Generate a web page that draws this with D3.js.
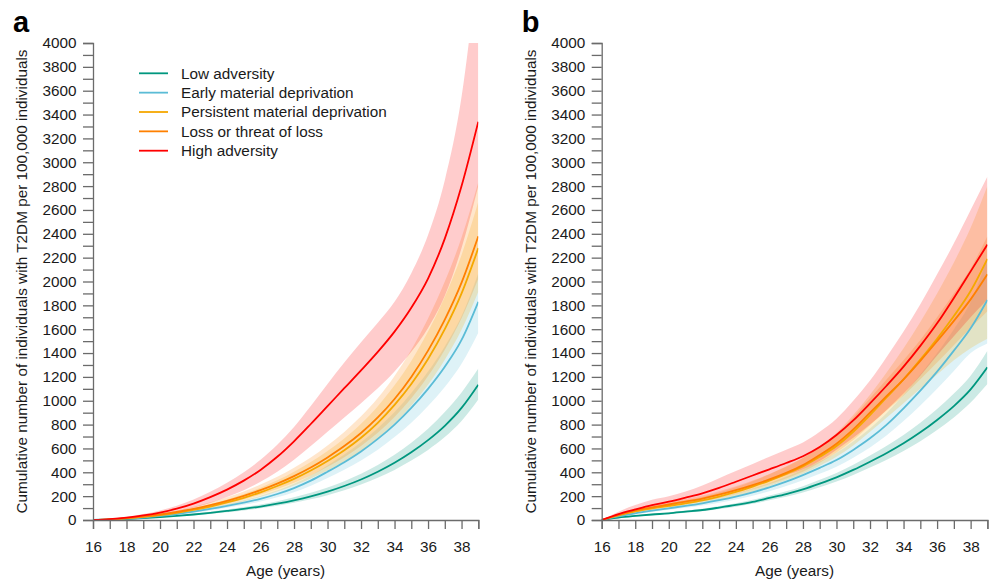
<!DOCTYPE html>
<html>
<head>
<meta charset="utf-8">
<script src="https://cdn.jsdelivr.net/npm/d3@7"></script>
<style>
  html, body { margin: 0; padding: 0; background: #fff; }
  svg { display: block; font-family: "Liberation Sans", Arial, sans-serif; }
</style>
</head>
<body>
<svg id="chart" width="992" height="582"></svg>
<script>
// ---------------- DATA ----------------
const ages = [16,17,18,19,20,21,22,23,24,25,26,27,28,29,30,31,32,33,34,35,36,37,38,39];
const groups = ["Low adversity","Early material deprivation","Persistent material deprivation","Loss or threat of loss","High adversity"];
const colors = ["#00977f","#5bbcd6","#f5a800","#ff8000","#ff0000"];
const yTicks = [0,200,400,600,800,1000,1200,1400,1600,1800,2000,2200,2400,2600,2800,3000,3200,3400,3600,3800,4000];
const xTickLabels = [16,18,20,22,24,26,28,30,32,34,36,38];
const panelLabels = ["a","b"];

// Panel a
const aLow     = [0,3,8,15,24,34,46,60,76,93,113,137,165,198,238,285,340,405,480,568,670,790,940,1135];
const aLowLo   = [0,2,6,12,20,29,39,51,65,80,98,119,144,173,208,250,298,355,420,498,588,695,830,1010];
const aLowHi   = [0,4,10,18,29,40,54,70,88,108,131,158,190,228,273,326,388,462,548,648,765,905,1070,1270];
const aEarly   = [0,4,11,21,34,50,70,93,118,146,178,218,268,330,405,485,575,680,800,940,1100,1285,1510,1830];
const aEarlyLo = [0,3,9,18,29,43,60,80,102,127,155,190,233,287,352,422,500,590,695,815,955,1115,1310,1570];
const aEarlyHi = [0,5,13,24,39,57,80,106,134,166,202,247,303,374,458,550,652,770,905,1065,1245,1455,1710,2070];
const aPers    = [0,5,14,26,41,60,84,113,147,186,232,285,345,415,495,585,690,815,965,1140,1350,1600,1900,2280];
const aPersLo  = [0,4,12,22,34,50,71,95,123,156,195,239,290,349,416,491,580,685,811,958,1134,1344,1596,1915];
const aPersHi  = [0,6,16,30,48,70,98,132,172,218,271,333,404,486,579,684,807,954,1129,1334,1580,1872,2223,2668];
const aLoss    = [0,6,16,29,46,67,93,124,160,202,250,305,368,440,525,620,730,860,1015,1200,1420,1680,1990,2380];
const aLossLo  = [0,5,14,25,39,57,79,105,136,172,213,259,313,374,446,527,621,731,863,1020,1207,1428,1692,2023];
const aLossHi  = [0,7,19,35,55,80,111,148,190,240,298,363,438,524,625,738,869,1023,1208,1428,1690,1999,2368,2832];
const aHigh    = [0,8,20,38,62,95,138,192,255,330,420,530,660,805,955,1105,1255,1410,1580,1780,2025,2360,2800,3340];
const aHighLo  = [0,6,15,28,46,70,102,143,192,250,320,405,505,620,740,860,980,1105,1245,1410,1610,1880,2280,2800];
const aHighHi  = [0,11,27,50,80,120,172,236,312,400,505,630,780,955,1140,1320,1490,1655,1830,2070,2390,2850,3550,4700];

// Panel b
const bLow     = [0,20,34,46,56,70,84,104,126,152,185,218,257,305,358,420,489,562,643,735,839,955,1095,1280];
const bLowLo   = [0,15,28,39,49,61,74,92,112,136,165,195,230,275,323,378,440,505,578,660,755,860,985,1140];
const bLowHi   = [0,24,40,53,64,80,95,117,141,170,205,241,284,337,395,463,540,622,712,815,930,1060,1210,1420];
const bEarly   = [0,30,56,78,98,118,140,166,196,232,274,322,377,437,503,588,685,800,937,1085,1244,1420,1607,1845];
const bEarlyLo = [0,24,47,67,85,103,122,145,172,204,242,285,334,388,447,522,608,710,830,960,1100,1250,1400,1480];
const bEarlyHi = [0,37,66,90,112,134,159,189,222,262,309,362,423,490,563,658,768,898,1050,1220,1400,1600,1830,2200];
const bPers    = [0,38,72,97,118,140,165,197,235,280,330,387,450,530,620,740,880,1030,1180,1345,1520,1710,1920,2190];
const bPersLo  = [0,28,58,80,98,117,139,167,200,240,284,333,388,455,530,625,740,860,980,1100,1220,1340,1440,1520];
const bPersHi  = [0,50,88,116,140,165,193,230,274,325,383,450,525,620,730,880,1050,1240,1440,1660,1900,2160,2450,2800];
const bLoss    = [0,42,80,105,130,155,180,212,250,293,340,395,460,545,640,760,900,1040,1180,1335,1500,1670,1850,2060];
const bLossLo  = [0,33,67,90,112,134,157,185,219,258,300,348,405,480,565,670,795,920,1045,1180,1320,1465,1610,1750];
const bLossHi  = [0,52,95,122,150,178,206,242,284,332,385,447,520,615,722,860,1020,1180,1340,1510,1700,1900,2110,2380];
const bHigh    = [0,50,89,125,154,188,224,270,321,373,425,478,535,612,713,835,978,1128,1286,1460,1649,1862,2085,2310];
const bHighLo  = [0,35,65,92,115,140,170,205,245,286,330,375,425,495,590,690,800,925,1060,1210,1380,1540,1700,1850];
const bHighHi  = [0,70,125,170,200,240,290,350,410,470,530,590,650,740,850,1000,1170,1370,1580,1810,2060,2320,2600,2880];

const panelA = [[aLow,aLowLo,aLowHi],[aEarly,aEarlyLo,aEarlyHi],[aPers,aPersLo,aPersHi],[aLoss,aLossLo,aLossHi],[aHigh,aHighLo,aHighHi]];
const panelB = [[bLow,bLowLo,bLowHi],[bEarly,bEarlyLo,bEarlyHi],[bPers,bPersLo,bPersHi],[bLoss,bLossLo,bLossHi],[bHigh,bHighLo,bHighHi]];

// ---------------- DRAW ----------------
const svg = d3.select("#chart");
const yTitle = "Cumulative number of individuals with T2DM per 100,000 individuals";
const axisColor = "#6b6b6b";
const textColor = "#1a1a1a";
const fs = "15.3px";

const y = d3.scaleLinear().domain([0,4000]).range([520,43]);

const panels = [
  {label: panelLabels[0], x0: 93, x1: 478.3, data: panelA, legend: true},
  {label: panelLabels[1], x0: 601.7, x1: 987.4, data: panelB, legend: false}
];

panels.forEach((p, pi) => {
  const x = d3.scaleLinear().domain([16,39]).range([p.x0, p.x1]);
  const g = svg.append("g");

  const clipId = "clip" + pi;
  svg.append("defs").append("clipPath").attr("id", clipId)
    .append("rect").attr("x", p.x0).attr("y", 43).attr("width", p.x1 - p.x0).attr("height", 520 - 43);

  const plot = g.append("g").attr("clip-path", `url(#${clipId})`);

  const area = d3.area()
    .x((d,i) => x(ages[i]))
    .y0(d => y(d[0]))
    .y1(d => y(d[1]))
    .curve(d3.curveMonotoneX);
  const line = d3.line()
    .x((d,i) => x(ages[i]))
    .y(d => y(d))
    .curve(d3.curveMonotoneX);

  p.data.forEach((s, k) => {
    const pts = ages.map((a,i) => [s[1][i], s[2][i]]);
    plot.append("path").attr("d", area(pts))
      .attr("fill", colors[k]).attr("fill-opacity", 0.2).attr("stroke", "none");
  });
  p.data.forEach((s, k) => {
    plot.append("path").attr("d", line(s[0]))
      .attr("fill", "none").attr("stroke", colors[k]).attr("stroke-width", 1.8);
  });

  // Y axis
  const yAxis = d3.axisLeft(y)
    .tickValues(d3.range(0, 4001, 100))
    .tickSize(10).tickPadding(6.5)
    .tickFormat(d => yTicks.includes(d) ? String(d) : "");
  const yg = g.append("g").attr("transform", `translate(${p.x0},0)`).call(yAxis);
  yg.select(".domain").attr("stroke", axisColor).attr("stroke-width", 1.3);
  yg.selectAll(".tick line").attr("stroke", axisColor).attr("stroke-width", 1.3);
  yg.selectAll(".tick text").attr("fill", textColor).style("font-size", fs)
    .style("font-family", '"Liberation Sans", Arial, sans-serif');

  // X axis
  const xAxis = d3.axisBottom(x)
    .tickValues(d3.range(16, 40, 1))
    .tickSize(9).tickPadding(12)
    .tickFormat(d => xTickLabels.includes(d) ? String(d) : "");
  const xg = g.append("g").attr("transform", `translate(0,520)`).call(xAxis);
  xg.select(".domain").attr("stroke", axisColor).attr("stroke-width", 1.3);
  xg.selectAll(".tick line").attr("stroke", axisColor).attr("stroke-width", 1.3);
  xg.selectAll(".tick text").attr("fill", textColor).style("font-size", fs)
    .style("font-family", '"Liberation Sans", Arial, sans-serif');

  // Titles
  g.append("text")
    .attr("transform", `translate(${p.x0 - 66},${(43+520)/2}) rotate(-90)`)
    .attr("text-anchor", "middle").attr("fill", textColor)
    .style("font-size", fs).text(yTitle);
  g.append("text")
    .attr("x", (p.x0 + p.x1)/2).attr("y", 576)
    .attr("text-anchor", "middle").attr("fill", textColor)
    .style("font-size", fs).text("Age (years)");

  // Panel label
  g.append("text")
    .attr("x", p.x0 - 80).attr("y", 32)
    .attr("fill", "#000").style("font-size", "29px").style("font-weight", "bold")
    .text(p.label);

  // Legend
  if (p.legend) {
    const lg = g.append("g");
    groups.forEach((name, k) => {
      const ly = 73.3 + k * 19.35;
      lg.append("line").attr("x1", 139).attr("x2", 168).attr("y1", ly).attr("y2", ly)
        .attr("stroke", colors[k]).attr("stroke-width", 1.8);
      lg.append("text").attr("x", 181).attr("y", ly).attr("dy", "0.35em")
        .attr("fill", textColor).style("font-size", fs).text(name);
    });
  }
});
</script>
</body>
</html>
